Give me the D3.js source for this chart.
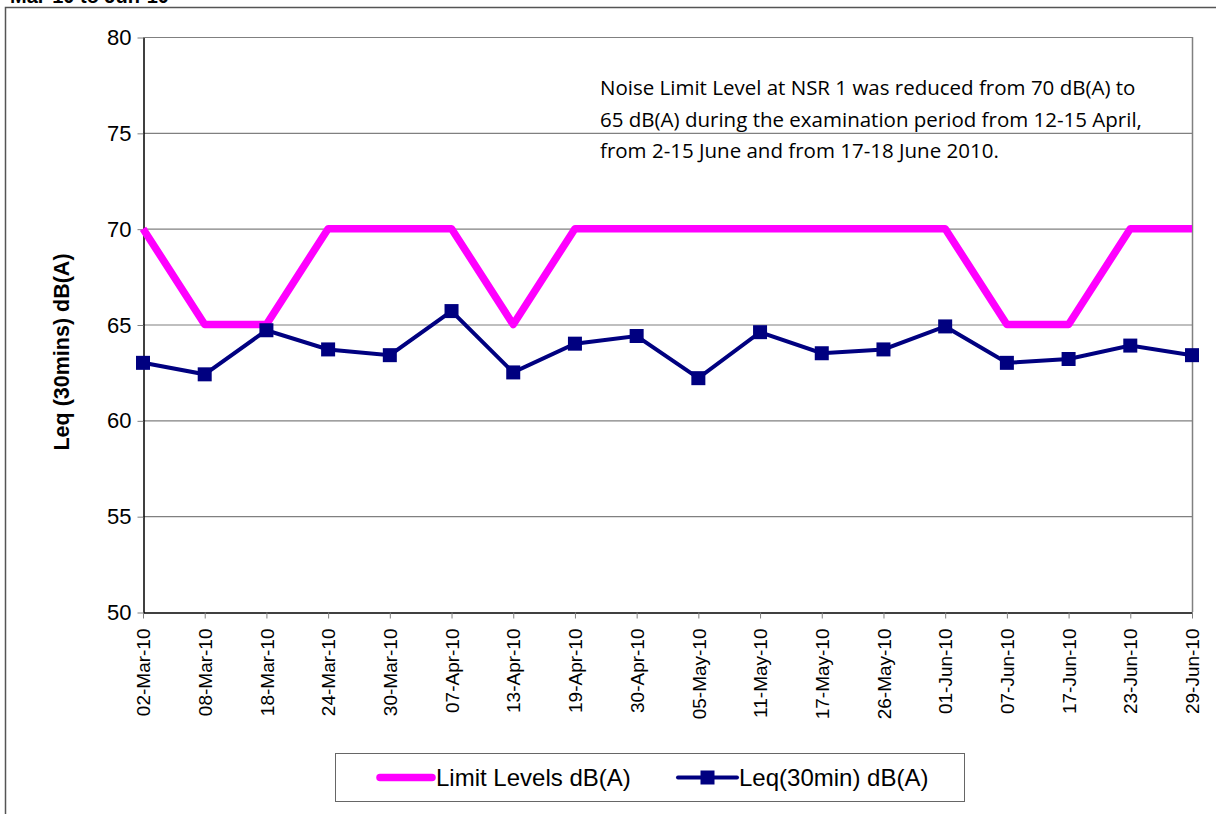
<!DOCTYPE html>
<html lang="en">
  <head>
    <meta charset="utf-8">
    <title>Noise levels at NSR 1</title>
    <script src="https://cdn.jsdelivr.net/npm/d3@7"></script>
    <style>
      body { margin: 0; background: #fff; }
      svg { display: block; }
    </style>
  </head>
  <body>
    <script>

      // dates of the measurements
      var dates = ["02-Mar-10", "08-Mar-10", "18-Mar-10", "24-Mar-10", "30-Mar-10", "07-Apr-10",
                   "13-Apr-10", "19-Apr-10", "30-Apr-10", "05-May-10", "11-May-10", "17-May-10",
                   "26-May-10", "01-Jun-10", "07-Jun-10", "17-Jun-10", "23-Jun-10", "29-Jun-10"];

      // limit levels dB(A)
      var limitLevels = [70, 65, 65, 70, 70, 70, 65, 70, 70, 70, 70, 70, 70, 70, 65, 65, 70, 70];

      // measured Leq (30 min) dB(A)
      var leqValues = [63.0, 62.4, 64.7, 63.7, 63.4, 65.7, 62.5, 64.0, 64.4, 62.2, 64.6, 63.5,
                       63.7, 64.9, 63.0, 63.2, 63.9, 63.4];

      var yTicks = [50, 55, 60, 65, 70, 75, 80];

      var noteLines = ["Noise Limit Level at NSR 1 was reduced from 70 dB(A) to",
                       "65 dB(A) during the examination period from 12-15 April,",
                       "from 2-15 June and from 17-18 June 2010."];

      var w = 1216, h = 814;
      var padLeft = 143, padRight = 1192, padTop = 37, padBottom = 612;

      var svg = d3.select("body").append("svg")
                  .attr("width", w)
                  .attr("height", h);

      // outer chart frame
      svg.append("rect")
         .attr("x", 5.5).attr("y", 7.5)
         .attr("width", 1240).attr("height", 900)
         .attr("fill", "none")
         .attr("stroke", "#555")
         .attr("stroke-width", 1.5);

      // clipped title
      svg.append("text")
         .attr("x", 10).attr("y", 3)
         .attr("font-family", "Liberation Sans, Arial, sans-serif")
         .attr("font-weight", "bold")
         .attr("font-size", 20)
         .text("Mar-10 to Jun-10");

      var xScale = d3.scalePoint()
                     .domain(dates)
                     .range([padLeft, padRight]);

      var yScale = d3.scaleLinear()
                     .domain([50, 80])
                     .range([padBottom, padTop]);

      // gridlines
      svg.append("g")
         .selectAll("line")
         .data(yTicks.slice(1))
         .enter().append("line")
         .attr("x1", padLeft).attr("x2", padRight)
         .attr("y1", function(d) { return yScale(d) + 0.5; })
         .attr("y2", function(d) { return yScale(d) + 0.5; })
         .attr("stroke", "#808080")
         .attr("stroke-width", 1.2);

      // right border of plot area
      svg.append("line")
         .attr("x1", padRight + 0.5).attr("x2", padRight + 0.5)
         .attr("y1", padTop).attr("y2", padBottom)
         .attr("stroke", "#808080")
         .attr("stroke-width", 1.5);

      //Y axis
      var yAxis = d3.axisLeft(yScale)
                    .tickValues(yTicks)
                    .tickSize(6)
                    .tickSizeOuter(0);

      var gy = svg.append("g")
                  .attr("transform", "translate(" + (padLeft + 0.5) + ",0.5)")
                  .call(yAxis);
      gy.select(".domain").attr("stroke", "#000").attr("stroke-width", 1.5);
      gy.selectAll(".tick line").attr("stroke", "#808080");
      gy.selectAll(".tick text")
        .attr("x", -12)
        .attr("font-family", "Liberation Sans, Arial, sans-serif")
        .attr("font-size", 22)
        .attr("fill", "#000");

      //X axis
      var xAxis = d3.axisBottom(xScale)
                    .tickSize(6)
                    .tickSizeOuter(0);

      var gx = svg.append("g")
                  .attr("transform", "translate(0," + (padBottom + 0.5) + ")")
                  .call(xAxis);
      gx.select(".domain").attr("stroke", "#000").attr("stroke-width", 1.5);
      gx.selectAll(".tick line").attr("stroke", "#808080");
      gx.selectAll(".tick text")
        .attr("transform", "rotate(-90)")
        .attr("x", -16)
        .attr("y", 0)
        .attr("dy", "0.35em")
        .attr("text-anchor", "end")
        .attr("font-family", "Liberation Sans, Arial, sans-serif")
        .attr("font-size", 19)
        .attr("fill", "#000");

      // y axis title
      svg.append("text")
         .attr("transform", "translate(69,352) rotate(-90)")
         .attr("text-anchor", "middle")
         .attr("font-family", "Liberation Sans, Arial, sans-serif")
         .attr("font-weight", "bold")
         .attr("font-size", 21.5)
         .text("Leq (30mins) dB(A)");

      // shared line generator
      var seriesLine = d3.line()
                         .x(function(d, i) { return xScale(dates[i]); })
                         .y(function(d) { return yScale(d); });

      // limit line
      svg.append("path")
         .datum(limitLevels)
         .attr("fill", "none")
         .attr("stroke", "#ff00ff")
         .attr("stroke-width", 7.5)
         .attr("stroke-linejoin", "round")
         .attr("d", seriesLine);

      // Leq line and markers
      svg.append("path")
         .datum(leqValues)
         .attr("fill", "none")
         .attr("stroke", "#000080")
         .attr("stroke-width", 4)
         .attr("d", seriesLine);

      svg.append("g")
         .selectAll("rect")
         .data(leqValues)
         .enter().append("rect")
         .attr("x", function(d, i) { return xScale(dates[i]) - 7; })
         .attr("y", function(d) { return yScale(d) - 7; })
         .attr("width", 14)
         .attr("height", 14)
         .attr("fill", "#000080");

      // annotation
      svg.append("g")
         .selectAll("text")
         .data(noteLines)
         .enter().append("text")
         .attr("x", 600)
         .attr("y", function(d, i) { return 95 + i * 31.5; })
         .attr("font-family", "Open Sans, sans-serif")
         .attr("font-size", 20.5)
         .attr("fill", "#000")
         .text(function(d) { return d; });

      // legend
      var legend = svg.append("g");
      legend.append("rect")
            .attr("x", 335.5).attr("y", 753.5)
            .attr("width", 629).attr("height", 48)
            .attr("fill", "#fff")
            .attr("stroke", "#666")
            .attr("stroke-width", 1);

      legend.append("line")
            .attr("x1", 380).attr("x2", 432)
            .attr("y1", 777.5).attr("y2", 777.5)
            .attr("stroke", "#ff00ff")
            .attr("stroke-width", 7.5)
            .attr("stroke-linecap", "round");
      legend.append("text")
            .attr("x", 436).attr("y", 786)
            .attr("font-family", "Liberation Sans, Arial, sans-serif")
            .attr("font-size", 24)
            .text("Limit Levels dB(A)");

      legend.append("line")
            .attr("x1", 678).attr("x2", 737)
            .attr("y1", 777.5).attr("y2", 777.5)
            .attr("stroke", "#000080")
            .attr("stroke-width", 4)
            .attr("stroke-linecap", "round");
      legend.append("rect")
            .attr("x", 700.5).attr("y", 770.5)
            .attr("width", 14).attr("height", 14)
            .attr("fill", "#000080");
      legend.append("text")
            .attr("x", 739).attr("y", 786)
            .attr("font-family", "Liberation Sans, Arial, sans-serif")
            .attr("font-size", 24)
            .text("Leq(30min) dB(A)");

    </script>
  </body>
</html>
